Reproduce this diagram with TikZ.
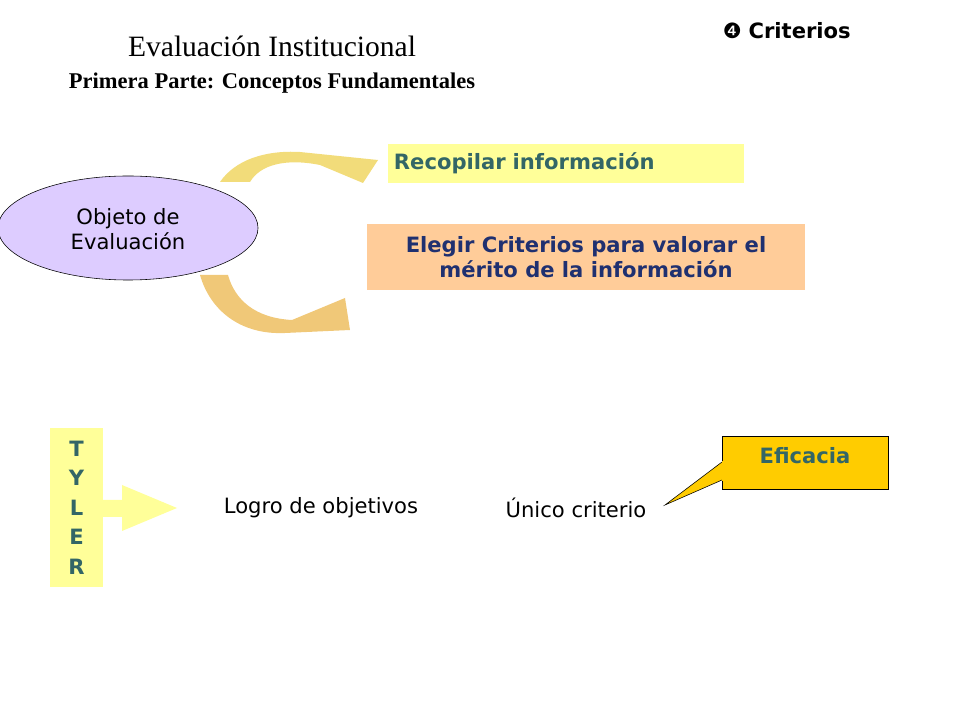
\documentclass[tikz,border=0pt]{standalone}
\usepackage{fontspec}
\setmainfont{DejaVu Sans}
\newfontfamily\titlefont{Liberation Serif}
\usetikzlibrary{positioning, shapes.geometric}
\definecolor{lila}{HTML}{DDCCFF}
\definecolor{paleyellow}{HTML}{FFFF99}
\definecolor{peach}{HTML}{FFCC99}
\definecolor{gold}{HTML}{FFCC00}
\definecolor{teal}{HTML}{336666}
\definecolor{navy}{HTML}{1F3070}
\definecolor{arrowtop}{HTML}{F2DC7A}
\definecolor{arrowbot}{HTML}{F0C878}

\begin{document}
\begin{tikzpicture}[x=0.025cm, y=-0.025cm,
    box/.style = {inner sep=0pt, font=\fontsize{15}{18}\selectfont\bfseries},
    plain/.style = {font=\fontsize{15}{18}\selectfont}]
        \useasboundingbox (0,0) rectangle (960,720);
        
        % title
        \node (title) at (272,46) {\titlefont\fontsize{21}{24}\selectfont Evaluación Institucional};
        \node (subtitle) at (272,83) {\titlefont\fontsize{16}{20}\selectfont\bfseries Primera Parte: Conceptos Fundamentales};
        \node[anchor = west] (crit) at (718,31) {\fontsize{15}{18}\selectfont ❹ \bfseries Criterios};
        
        % curved arrows
        \fill[arrowtop] (220,182) .. controls (235,160) and (265,150) .. (300,152)
            -- (378,160) -- (363,183) -- (320,165)
            .. controls (285,158) and (260,165) .. (250,182) -- cycle;
        \fill[arrowbot] (200,275) .. controls (210,310) and (240,335) .. (285,333)
            -- (350,330) -- (345,298) -- (292,320)
            .. controls (255,318) and (235,300) .. (228,275) -- cycle;
        
        \node[draw, fill = lila, ellipse, minimum width = 6.5cm, minimum height = 2.6cm, inner sep = 0pt] (obj) at (128,228) {};
        \node[plain, align = center] (objtext) at (128,229) {Objeto de\\ Evaluación};
        
        \node[box, fill = paleyellow, text = teal, minimum width = 8.9cm, minimum height = 0.975cm, text width = 8.6cm, align = left] (recop) at (566,163.5) {Recopilar información};
        \node[box, fill = peach, text = navy, minimum width = 10.95cm, minimum height = 1.65cm, align = center] (elegir) at (586,257) {Elegir Criterios para valorar el\\ mérito de la información};
        
        % Tyler
        \node[box, fill = paleyellow, text = teal, minimum width = 1.325cm, minimum height = 3.975cm, align = center, font = \fontsize{15}{21}\selectfont\bfseries] (tyler) at (76.5,507.5) {T\\ Y\\ L\\ E\\ R};
        \fill[paleyellow] (103,500) -- (122,500) -- (122,485) -- (177,508) -- (122,531) -- (122,517) -- (103,517) -- cycle;
        
        \node[plain] (logro) at (321,508) {Logro de objetivos};
        \node[plain] (unico) at (576,508) {Único criterio};
        
        \draw[fill = gold] (722,436) rectangle (888,489);
        \draw[fill = gold] (722,462) -- (665,505) -- (722,480);
        \fill[gold] (721.5,461) rectangle (723,481);
        \node[box, text = teal] (efic) at (805,456) {Eficacia};
    \end{tikzpicture}
\end{document}
